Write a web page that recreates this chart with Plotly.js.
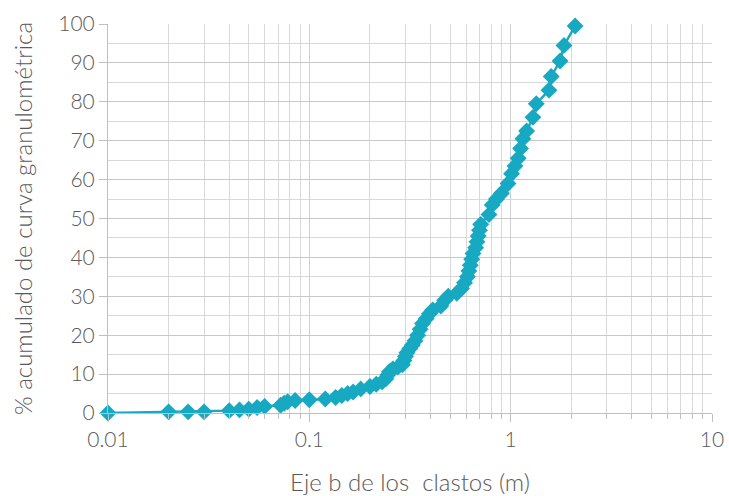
<!DOCTYPE html>
<html><head><meta charset="utf-8">
<script src="https://cdn.plot.ly/plotly-3.0.1.min.js"></script>
<style>html,body{margin:0;padding:0;background:#fff;}#c{width:729px;height:496px;}</style>
</head><body><div id="c"></div>
<script>
const sizes = [0.01,0.02,0.025,0.03,0.04,0.045,0.05,0.055,0.06,0.072,0.075,0.078,0.085,0.1,0.12,0.135,0.145,0.155,0.165,0.18,0.2,0.215,0.23,0.24,0.245,0.25,0.26,0.275,0.29,0.295,0.3,0.305,0.315,0.325,0.335,0.345,0.355,0.365,0.38,0.395,0.41,0.45,0.47,0.49,0.54,0.57,0.59,0.61,0.62,0.63,0.64,0.65,0.67,0.68,0.69,0.7,0.71,0.78,0.81,0.85,0.9,0.97,1.01,1.05,1.09,1.12,1.15,1.2,1.29,1.34,1.55,1.59,1.76,1.84,2.09];
const cumPct = [0,0.3,0.3,0.3,0.6,0.8,1.0,1.4,1.7,2.0,2.5,2.9,3.2,3.4,3.6,4.0,4.5,5.0,5.4,6.2,6.8,7.4,8.0,8.8,9.8,10.6,11.3,11.8,12.4,13.5,14.5,15.5,16.5,17.5,18.6,20.0,21.5,23.0,24.2,25.5,26.5,27.5,29.0,30.0,30.8,32.0,33.5,35.0,36.5,38.0,39.5,41.0,42.5,44.0,45.5,47.0,48.5,51.0,53.5,55.0,56.5,59.0,61.5,63.5,65.5,68.0,70.5,72.5,76.0,79.5,83.0,86.5,90.5,94.5,99.5];
const xTickVals = [0.01,0.1,1,10];
const xTickText = ["0.01","0.1","1","10"];

const minorVals = [];
[0.01,0.1,1].forEach(d=>{for(let k=2;k<=9;k++) minorVals.push(d*k);});

const col = '#17a9c1';
const txt = '#595959';
const font = 'Lato, "Open Sans", sans-serif';

Plotly.newPlot('c', [{
  x: sizes, y: cumPct, type:'scatter', mode:'lines+markers',
  line:{color:col, width:2.4},
  marker:{symbol:'diamond', size:13, color:col},
  cliponaxis:false
}], {
  width:729, height:496,
  margin:{l:108, r:17, t:24, b:83},
  paper_bgcolor:'#fff', plot_bgcolor:'#fff',
  showlegend:false,
  font:{family:font, color:txt, size:21, weight:300},
  xaxis:{
    type:'log', range:[-2,1],
    tickmode:'array', tickvals:xTickVals, ticktext:xTickText,
    ticks:'outside', ticklen:8, tickcolor:'#bfbfbf',
    showgrid:true, gridcolor:'#d0d0d0', gridwidth:1,
    showline:true, linecolor:'#bfbfbf', linewidth:1,
    zeroline:false,
    minor:{tickmode:'array', tickvals:minorVals, showgrid:true, gridcolor:'#d9d9d9', gridwidth:1, ticks:'outside', ticklen:5, tickcolor:'#bfbfbf'},
    tickfont:{family:font, size:21, color:txt, weight:300},
    title:{text:'Eje b de los  clastos (m)', font:{family:font, size:24, color:txt, weight:300}, standoff:24}
  },
  yaxis:{
    range:[0,100], dtick:10, tick0:0,
    ticks:'outside', ticklen:8, tickcolor:'#bfbfbf',
    showgrid:true, gridcolor:'#c8c8c8', gridwidth:1,
    showline:true, linecolor:'#bfbfbf', linewidth:1,
    zeroline:false,
    minor:{dtick:5, showgrid:true, gridcolor:'#d9d9d9', gridwidth:1},
    tickfont:{family:font, size:21, color:txt, weight:300},
    title:{text:'% acumulado de curva granulométrica', font:{family:font, size:24, color:txt, weight:300}, standoff:18}
  }
}, {displayModeBar:false, staticPlot:true});
</script>
</body></html>
